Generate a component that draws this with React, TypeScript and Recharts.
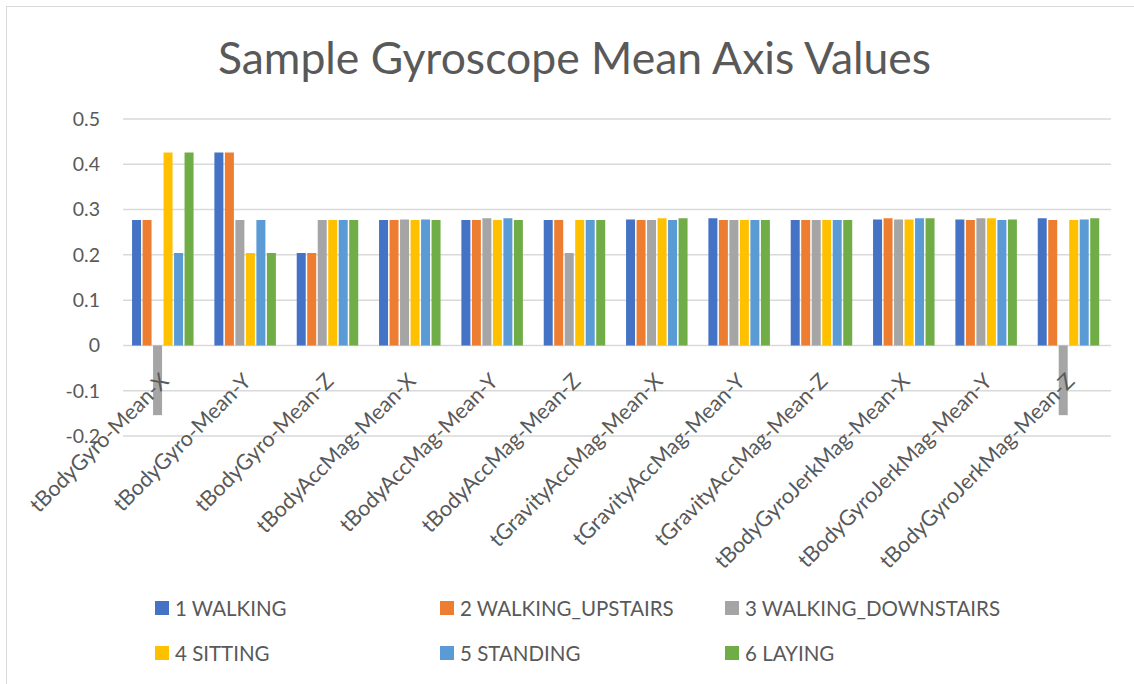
import React from 'react';
import { BarChart, Bar, XAxis, YAxis, CartesianGrid, Legend } from 'recharts';

const categories = [
  'tBodyGyro-Mean-X',
  'tBodyGyro-Mean-Y',
  'tBodyGyro-Mean-Z',
  'tBodyAccMag-Mean-X',
  'tBodyAccMag-Mean-Y',
  'tBodyAccMag-Mean-Z',
  'tGravityAccMag-Mean-X',
  'tGravityAccMag-Mean-Y',
  'tGravityAccMag-Mean-Z',
  'tBodyGyroJerkMag-Mean-X',
  'tBodyGyroJerkMag-Mean-Y',
  'tBodyGyroJerkMag-Mean-Z',
];

const walking = [0.277, 0.426, 0.204, 0.277, 0.277, 0.277, 0.278, 0.281, 0.277, 0.278, 0.278, 0.281];
const walkingUpstairs = [0.277, 0.426, 0.204, 0.277, 0.277, 0.277, 0.277, 0.277, 0.277, 0.281, 0.277, 0.277];
const walkingDownstairs = [-0.154, 0.277, 0.277, 0.278, 0.281, 0.204, 0.277, 0.277, 0.277, 0.278, 0.281, -0.154];
const sitting = [0.426, 0.204, 0.277, 0.277, 0.277, 0.277, 0.281, 0.277, 0.277, 0.278, 0.281, 0.277];
const standing = [0.204, 0.277, 0.277, 0.278, 0.281, 0.277, 0.277, 0.277, 0.277, 0.281, 0.277, 0.278];
const laying = [0.426, 0.204, 0.277, 0.277, 0.277, 0.277, 0.281, 0.277, 0.277, 0.281, 0.278, 0.281];

const seriesNames = ['1 WALKING', '2 WALKING_UPSTAIRS', '3 WALKING_DOWNSTAIRS', '4 SITTING', '5 STANDING', '6 LAYING'];
const seriesValues = [walking, walkingUpstairs, walkingDownstairs, sitting, standing, laying];
const seriesColors = ['#4472C4', '#ED7D31', '#A5A5A5', '#FFC000', '#5B9BD5', '#70AD47'];

const yTicks = [-0.2, -0.1, 0, 0.1, 0.2, 0.3, 0.4, 0.5];
const Y_MIN = -0.2;
const Y_MAX = 0.5;

const data = categories.map((c, i) => {
  const row: Record<string, string | number> = { category: c };
  seriesNames.forEach((n, s) => {
    row[n] = seriesValues[s][i];
  });
  return row;
});

const WIDTH = 1134;
const HEIGHT = 684;
const MARGIN = { top: 119, right: 23, left: 0, bottom: 10 };
const LEGEND_H = 90;
const XAXIS_H = 148;
const PLOT_H = HEIGHT - MARGIN.top - MARGIN.bottom - LEGEND_H - XAXIS_H;
const ZERO_SHIFT = (PLOT_H * (0 - Y_MIN)) / (Y_MAX - Y_MIN);

const FONT = 'Lato, "Open Sans", sans-serif';
const TEXT_COLOR = '#595959';

const CategoryTick = (props: any) => {
  const { x, y, payload } = props;
  return (
    <g transform={`translate(${x + 6},${y - ZERO_SHIFT + 37})`}>
      <text
        x={0}
        y={0}
        transform="rotate(-45)"
        textAnchor="end"
        fill={TEXT_COLOR}
        fontSize={21.5}
        fontFamily={FONT}
      >
        {payload.value}
      </text>
    </g>
  );
};

const legendCols = [155, 440, 725];
const legendRows = [24, 69];

const LegendContent = (props: any) => {
  const { payload } = props;
  return (
    <div style={{ position: 'relative', width: WIDTH, height: LEGEND_H }}>
      {(payload || []).map((entry: any, i: number) => {
        const col = i % 3;
        const row = Math.floor(i / 3);
        return (
          <div
            key={entry.value}
            style={{
              position: 'absolute',
              left: legendCols[col],
              top: legendRows[row] - 12,
              height: 24,
              display: 'flex',
              alignItems: 'center',
              fontFamily: FONT,
              fontSize: 20.5,
              color: TEXT_COLOR,
              whiteSpace: 'nowrap',
            }}
          >
            <span
              style={{
                display: 'inline-block',
                width: 14,
                height: 14,
                background: entry.color,
                marginRight: 6,
              }}
            />
            <span>{entry.value}</span>
          </div>
        );
      })}
    </div>
  );
};

export default function App() {
  return (
    <div style={{ position: 'absolute', left: 0, top: 0, width: WIDTH, height: HEIGHT, background: '#fff', overflow: 'hidden' }}>
      <div
        style={{
          position: 'absolute',
          left: 6,
          top: 6,
          width: WIDTH - 6,
          height: HEIGHT - 6,
          borderLeft: '1.5px solid #d9d9d9',
          borderTop: '1.5px solid #d9d9d9',
          boxSizing: 'border-box',
        }}
      />
      <div
        style={{
          position: 'absolute',
          left: 0,
          top: 32,
          width: 1149,
          textAlign: 'center',
          fontFamily: FONT,
          fontSize: 44.5,
          lineHeight: '50px',
          color: TEXT_COLOR,
          whiteSpace: 'nowrap',
        }}
      >
        Sample Gyroscope Mean Axis Values
      </div>
      <div style={{ position: 'absolute', left: 0, top: 0 }}>
        <BarChart
          width={WIDTH}
          height={HEIGHT}
          data={data}
          margin={MARGIN}
          barCategoryGap="11%"
          barGap={1.5}
        >
          <CartesianGrid horizontal vertical={false} stroke="#d9d9d9" strokeWidth={1.5} />
          <XAxis
            dataKey="category"
            interval={0}
            axisLine={false}
            tickLine={false}
            tickSize={0}
            tickMargin={0}
            height={XAXIS_H}
            tick={<CategoryTick />}
          />
          <YAxis
            width={123}
            domain={[Y_MIN, Y_MAX]}
            ticks={yTicks}
            axisLine={false}
            tickLine={false}
            tickSize={6}
            tickMargin={17}
            tickFormatter={(v: number) => String(Number(v.toFixed(1)))}
            tick={{ fill: TEXT_COLOR, fontSize: 19.5, fontFamily: FONT }}
          />
          <Legend
            verticalAlign="bottom"
            wrapperStyle={{ left: 0, width: WIDTH, height: LEGEND_H }}
            content={<LegendContent />}
          />
          {seriesNames.map((n, s) => (
            <Bar key={n} dataKey={n} fill={seriesColors[s]} isAnimationActive={false} />
          ))}
        </BarChart>
      </div>
    </div>
  );
}
